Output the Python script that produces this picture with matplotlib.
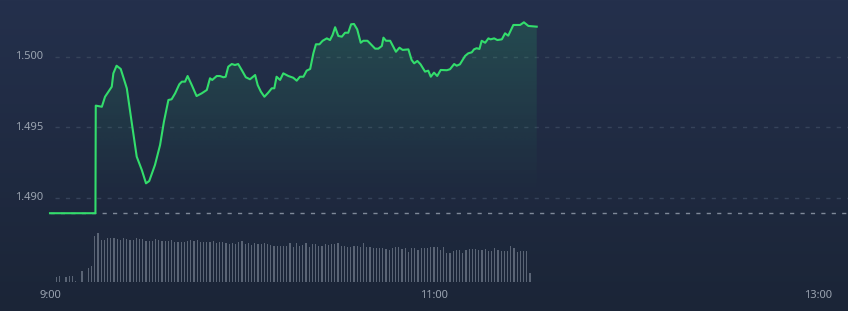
import numpy as np
import matplotlib
matplotlib.use("Agg")
import matplotlib.pyplot as plt
from matplotlib.patches import Polygon

plt.rcParams['font.family'] = ['Noto Sans', 'DejaVu Sans']
plt.rcParams['lines.scale_dashes'] = False

# 价格: 距 9:00 的分钟数, 价格
minutes = [0.0, 14.2, 14.3, 16.2, 17.2, 19.3, 19.8, 20.8, 22.1, 24.0, 25.5, 27.1, 28.7, 30.0, 31.0,
           32.8, 34.4, 35.6, 37.0, 38.0, 39.1, 40.4, 41.2, 42.2, 43.0, 44.3, 45.8, 47.4, 49.0, 50.0,
           50.7, 52.1, 53.1, 54.2, 54.9, 55.7, 56.8, 57.8, 58.8, 59.9, 61.2, 62.5, 64.1, 64.9, 65.9,
           67.0, 68.2, 69.3, 70.1, 70.8, 71.9, 72.9, 74.5, 76.0, 77.1, 78.1, 79.2, 80.2, 81.3, 82.3,
           83.1, 84.2, 85.2, 86.5, 87.5, 88.3, 89.1, 90.1, 91.2, 92.2, 93.2, 94.1, 95.0, 96.0, 97.1,
           97.9, 99.2, 100.2, 101.6, 102.6, 103.7, 104.2, 105.0, 106.3, 108.1, 109.2, 110.2, 112.0,
           113.0, 113.8, 114.8, 115.8, 117.2, 118.2, 119.0, 120.0, 121.0, 122.1, 124.0, 125.0, 126.3,
           127.1, 128.1, 129.7, 130.7, 131.8, 132.5, 133.3, 134.2, 134.9, 136.0, 137.0, 137.7, 138.8,
           139.8, 141.2, 142.2, 143.2, 144.8, 146.9, 148.1, 149.5, 152.1]
price = [1.4889, 1.4889, 1.49653, 1.49645, 1.49716, 1.49787, 1.49882, 1.49936, 1.49913, 1.49776,
         1.49539, 1.49291, 1.49196, 1.49102, 1.49118, 1.49232, 1.49374, 1.49539, 1.49693, 1.49698,
         1.49740, 1.49804, 1.49823, 1.49823, 1.49863, 1.49799, 1.49721, 1.49740, 1.49764, 1.49847,
         1.49835, 1.49863, 1.49863, 1.49854, 1.49858, 1.49929, 1.49948, 1.49941, 1.49948, 1.49906,
         1.49854, 1.49840, 1.49870, 1.49799, 1.49752, 1.49716, 1.49745, 1.49776, 1.49776, 1.49858,
         1.49835, 1.49882, 1.49863, 1.49851, 1.49830, 1.49858, 1.49858, 1.49901, 1.49913, 1.50024,
         1.50088, 1.50088, 1.50113, 1.50130, 1.50118, 1.50154, 1.50209, 1.50147, 1.50142, 1.50170,
         1.50170, 1.50230, 1.50232, 1.50194, 1.50099, 1.50113, 1.50113, 1.50090, 1.50057, 1.50057,
         1.50076, 1.50135, 1.50113, 1.50113, 1.50035, 1.50064, 1.50048, 1.50052, 1.49977, 1.49953,
         1.49970, 1.49946, 1.49894, 1.49901, 1.49858, 1.49887, 1.49863, 1.49906, 1.49904, 1.49911,
         1.49948, 1.49936, 1.49946, 1.50005, 1.50024, 1.50031, 1.50052, 1.50060, 1.50055, 1.50113,
         1.50099, 1.50130, 1.50123, 1.50130, 1.50118, 1.50123, 1.50166, 1.50149, 1.50225, 1.50225,
         1.50244, 1.50218, 1.50213]
prev_close = 1.4889

# 成交量, 每分钟一根 (从 9:00 开始)
volume = [0, 0, 5, 6, 0, 5.3, 6, 6, 1, 0, 11, 0, 14.3, 16,
          46, 49.3, 42, 42, 44, 44, 44, 43, 42, 44, 43, 42.3, 42, 44, 43, 43, 41, 41, 41, 43,
          42, 41, 41, 41, 42, 40, 40, 40, 40, 41, 42.6, 41, 42, 40, 40,
          40, 40, 41, 39, 40, 40, 39, 38, 39, 38, 40, 41.6, 38, 39, 37, 39, 38, 38, 39, 38,
          37, 36.6, 36.6,
          36.3, 36.3, 36.3, 39, 35.6, 39, 36.3, 37.3, 39.6, 35.6, 38, 38, 36.6, 36.6, 38, 37.3,
          38, 38, 39, 36.6, 36.6, 35.6, 35.6, 36.5, 36.6, 35.6, 39, 35, 35, 34.6, 34.6, 34,
          34.6, 33.3, 32.3, 34.6, 35, 35.6, 33.3, 34.6, 30.6, 34.6, 34.6, 32.3, 34.6, 34.6,
          34.6, 35, 35.6, 35.6, 32.3, 35.6, 29.6, 29.6, 31.6, 32.3, 32.3, 29.6, 32.3, 33.3,
          33.3, 33.3, 32.3, 32.3, 33.3, 31.6, 31.6, 34.6, 32.3, 31.6, 31.6, 31.6, 36.6, 34.6,
          30.6, 31.6, 31.6, 31.6, 9]

xticks = [0, 120, 240]
xticklabels = ["9:00", "11:00", "13:00"]
yticks = [1.490, 1.495, 1.500]

fig = plt.figure(figsize=(8.48, 3.11), dpi=100)
ax = fig.add_axes([0, 0, 1, 1])
ax.set_xlim(-15.625, 249.375)
ax.set_ylim(1.481965, 1.504021)
ax.axis("off")

# 背景渐变
bg = np.linspace(0, 1, 256)[:, None]
top = np.array([0x24, 0x30, 0x4c]) / 255
bottom = np.array([0x1b, 0x25, 0x37]) / 255
bg_img = top + (bottom - top) * bg[:, :, None]
ax.imshow(bg_img, extent=[-15.625, 249.375, 1.481965, 1.504021], aspect="auto", zorder=0)

# 网格线
for y in yticks:
    ax.plot([1.5, 249.375], [y, y], color="#36435a", lw=1, ls=(0, (3, 4.5)), zorder=1)
    ax.text(-10.9, y, "%.3f" % y, color="#9aa3b0", fontsize=8, ha="left", va="center", zorder=5)
ax.plot([0, 249.375], [prev_close, prev_close], color="#7f8999", lw=1, ls=(0, (3, 4.5)), zorder=2)

# 渐变填充
fill_bottom = 1.4901
xs = np.array(minutes[2:])
ys = np.array(price[2:])
poly = Polygon(np.column_stack([np.r_[xs, xs[-1], xs[0]], np.r_[ys, fill_bottom, fill_bottom]]),
               closed=True, facecolor="none", edgecolor="none")
ax.add_patch(poly)
grad = np.zeros((256, 1, 4))
grad[:, 0, :3] = np.array([0x2f, 0xdc, 0x6e]) / 255
grad[:, 0, 3] = np.linspace(0.16, 0.0, 256)
im = ax.imshow(grad, extent=[xs[0], xs[-1], fill_bottom, max(ys)], aspect="auto", zorder=2)
im.set_clip_path(poly)

ax.plot(minutes, price, color="#33dd6c", lw=1.5, zorder=4, solid_joinstyle="round")

for t, lab in zip(xticks, xticklabels):
    ax.text(t, 1.48303, lab, color="#9aa3b0", fontsize=8, ha="center", va="center")

# 成交量
ax2 = fig.add_axes([0, 0, 1, 1], facecolor="none")
ax2.set_xlim(-15.625, 249.375)
ax2.set_ylim(-28.7, 282.3)
ax2.axis("off")
ax2.bar(np.arange(len(volume)), volume, width=0.42, color="#5a6475", align="center")

fig.savefig("out.png", dpi=100)
